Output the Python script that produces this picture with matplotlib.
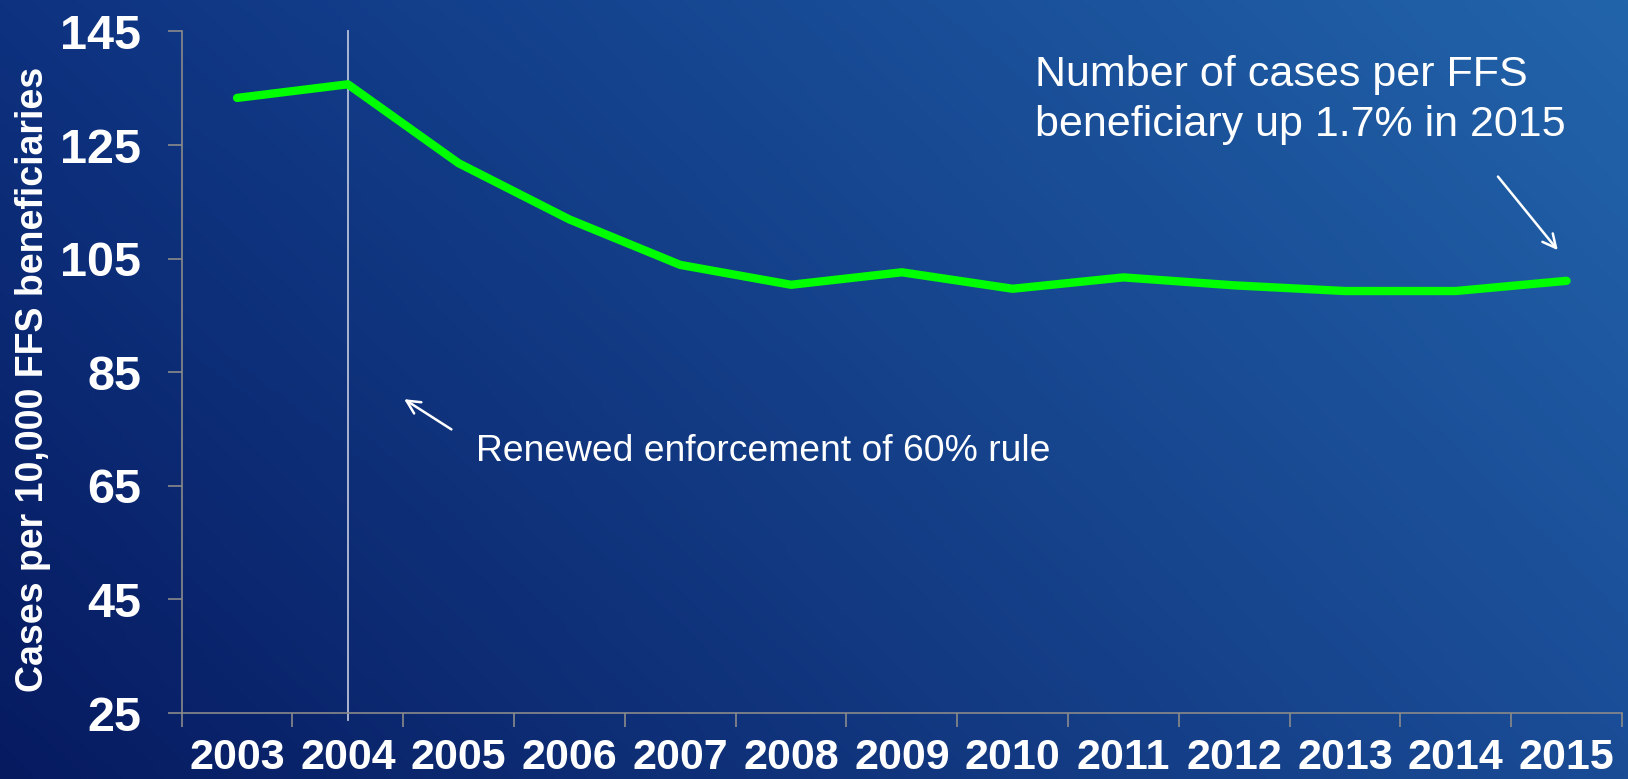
import numpy as np
import matplotlib
matplotlib.use("Agg")
import matplotlib.pyplot as plt

years = ["2003", "2004", "2005", "2006", "2007", "2008", "2009",
         "2010", "2011", "2012", "2013", "2014", "2015"]
cases = [133.3, 135.7, 121.8, 111.9, 103.9, 100.4, 102.6,
         99.7, 101.7, 100.3, 99.3, 99.3, 101.1]
yticks = [25, 45, 65, 85, 105, 125, 145]

fig = plt.figure(figsize=(16.28, 7.79), dpi=100)

# background gradient
bg = fig.add_axes([0, 0, 1, 1], zorder=-10)
bg.set_axis_off()
h, w = 200, 400
u = np.linspace(0, 1, w)[None, :, None]
v = np.linspace(0, 1, h)[:, None, None]  # 0 top, 1 bottom
TL = np.array([14, 50, 128]) / 255
TR = np.array([34, 100, 170]) / 255
BL = np.array([6, 26, 96]) / 255
BR = np.array([26, 76, 150]) / 255
img = (1 - v) * ((1 - u) * TL + u * TR) + v * ((1 - u) * BL + u * BR)
bg.imshow(np.clip(img, 0, 1), aspect="auto", extent=[0, 1, 0, 1])
bg.set_xlim(0, 1); bg.set_ylim(0, 1)

ax = fig.add_axes([0.1116, 0.0847, 0.8847, 0.8749])
ax.patch.set_alpha(0)
x = np.arange(len(years))
ax.plot(x, cases, color="#00ff00", lw=6, solid_capstyle="round",
        solid_joinstyle="round", zorder=3)
ax.axvline(1, ymin=-0.01, ymax=1, color="#b8c0d8", lw=1.3, clip_on=False, zorder=2)

ax.set_xlim(-0.5, len(years) - 0.5)
ax.set_ylim(25, 145)
ax.set_yticks(yticks)
ax.set_yticklabels([str(t) for t in yticks])
ax.set_xticks(np.arange(-0.5, len(years), 1.0))
ax.set_xticklabels([])
ax.set_xticks(x, minor=True)
ax.set_xticklabels(years, minor=True)

for s in ["top", "right"]:
    ax.spines[s].set_visible(False)
for s in ["left", "bottom"]:
    ax.spines[s].set_color("#8a8a8a")
    ax.spines[s].set_linewidth(1.2)

ax.tick_params(axis="y", which="major", length=10, width=1.2, color="#8a8a8a",
               labelsize=35, labelcolor="white", pad=19)
ax.tick_params(axis="x", which="major", length=10, width=1.2, color="#8a8a8a",
               direction="out")
ax.tick_params(axis="x", which="minor", length=0, labelsize=31,
               labelcolor="white", pad=18)
for lab in ax.get_yticklabels() + ax.get_xticklabels(minor=True):
    lab.set_fontfamily("Liberation Sans")
    lab.set_fontweight("bold")

ax.set_ylabel("Cases per 10,000 FFS beneficiaries", color="white",
              fontsize=27, fontweight="bold", family="Liberation Sans")
ax.yaxis.set_label_coords(-0.091, 0.49)

ax.text(0.636, 0.929, "Number of cases per FFS\nbeneficiary up 1.7% in 2015",
        transform=fig.transFigure, color="white", fontsize=31,
        family="Liberation Sans", va="top", ha="left", linespacing=1.3)
ax.text(0.2925, 0.408, "Renewed enforcement of 60% rule",
        transform=fig.transFigure, color="white", fontsize=26.8,
        family="Liberation Sans", va="baseline", ha="left")

ax.annotate("", xy=(387 * 1.0383 / 1628, 1 - 383 * 1.0383 / 779),
            xytext=(437 * 1.0383 / 1628, 1 - 415 * 1.0383 / 779),
            xycoords="figure fraction", textcoords="figure fraction",
            arrowprops=dict(arrowstyle="->", color="white", lw=1.8, mutation_scale=24))
ax.annotate("", xy=(1502 * 1.0383 / 1628, 1 - 243 * 1.0383 / 779),
            xytext=(1441 * 1.0383 / 1628, 1 - 168 * 1.0383 / 779),
            xycoords="figure fraction", textcoords="figure fraction",
            arrowprops=dict(arrowstyle="->", color="white", lw=1.8, mutation_scale=24))

fig.savefig("out.png", dpi=100)
